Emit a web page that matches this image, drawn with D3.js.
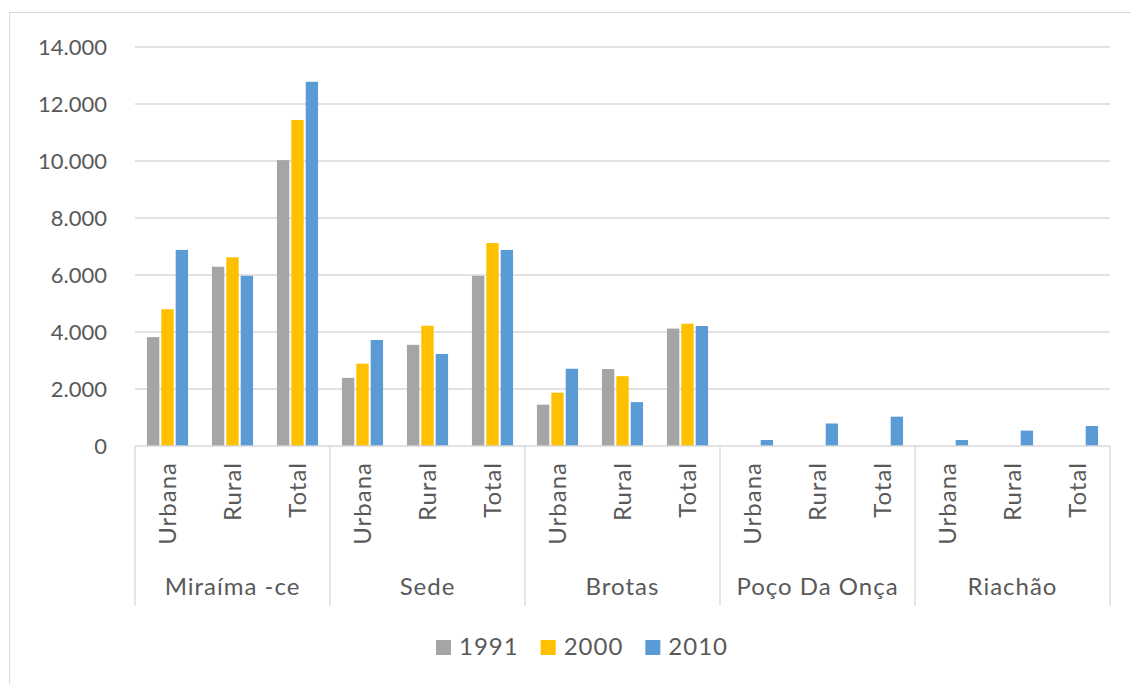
<!DOCTYPE html>
<html>
<head>
<meta charset="utf-8">
<script src="https://cdn.jsdelivr.net/npm/d3@7"></script>
<style>
  body { margin: 0; background: #fff; }
  text { font-family: Lato, "Open Sans", sans-serif; fill: #595959; }
</style>
</head>
<body>
<div id="chart"></div>
<script>
// data
const groups = ['Miraíma -ce', 'Sede', 'Brotas', 'Poço Da Onça', 'Riachão'];
const subcats = ['Urbana', 'Rural', 'Total'];
const years = ['1991', '2000', '2010'];
const v1991 = [3820, 6290, 10030, 2390, 3550, 5970, 1450, 2700, 4120, 0, 0, 0, 0, 0, 0];
const v2000 = [4800, 6620, 11440, 2890, 4220, 7120, 1870, 2450, 4290, 0, 0, 0, 0, 0, 0];
const v2010 = [6880, 5970, 12780, 3720, 3230, 6880, 2710, 1540, 4210, 210, 790, 1030, 210, 540, 700];
const yTicks = [0, 2000, 4000, 6000, 8000, 10000, 12000, 14000];
const colors = ['#a5a5a5', '#ffc000', '#5b9bd5'];

const W = 1131, H = 684;
const margin = {left: 135, right: 21, top: 47, bottom: 238};
const width = W - margin.left - margin.right;
const height = H - margin.top - margin.bottom;

const series = [v1991, v2000, v2010];
const rows = [];
groups.forEach((g, gi) => {
  subcats.forEach((s, si) => {
    const idx = gi * subcats.length + si;
    years.forEach((yr, yi) => {
      rows.push({group: g, sub: s, year: yr, value: series[yi][idx]});
    });
  });
});

const ptBR = d3.formatLocale({decimal: ',', thousands: '.', grouping: [3], currency: ['R$', '']});
const fmt = ptBR.format(',');

const svg = d3.select('#chart').append('svg')
    .attr('width', W)
    .attr('height', H);

// chart border
svg.append('rect')
    .attr('x', 9.5).attr('y', 12.5)
    .attr('width', 1300).attr('height', 900)
    .attr('fill', 'none')
    .attr('stroke', '#d9d9d9');

const g = svg.append('g')
    .attr('transform', 'translate(' + margin.left + ',' + margin.top + ')');

const x0 = d3.scaleBand().domain(groups).range([0, width]);
const x1 = d3.scaleBand().domain(subcats).range([0, x0.bandwidth()]);
const x2 = d3.scaleBand().domain(years).range([0, x1.bandwidth()])
    .paddingInner(0.14).paddingOuter(0.83);
const y = d3.scaleLinear().domain([0, 14000]).range([height, 0]);

// gridlines
g.selectAll('.grid')
    .data(yTicks.slice(1))
  .enter().append('line')
    .attr('x1', 0).attr('x2', width)
    .attr('y1', d => y(d)).attr('y2', d => y(d))
    .attr('stroke', '#d9d9d9')
    .attr('stroke-width', 1.3);

// y axis labels
const yAxis = g.append('g')
    .call(d3.axisLeft(y).tickValues(yTicks).tickFormat(fmt).tickSize(0).tickPadding(28));
yAxis.select('.domain').remove();
yAxis.selectAll('text')
    .attr('font-size', '22px')
    .attr('font-family', 'Lato, sans-serif')
    .attr('fill', '#595959');

// bars
g.selectAll('.bar')
    .data(rows)
  .enter().append('rect')
    .attr('class', 'bar')
    .attr('x', d => x0(d.group) + x1(d.sub) + x2(d.year))
    .attr('width', x2.bandwidth())
    .attr('y', d => y(d.value))
    .attr('height', d => height - y(d.value))
    .attr('fill', (d, i) => colors[years.indexOf(d.year)]);

// category axis line
g.append('line')
    .attr('x1', 0).attr('x2', width)
    .attr('y1', height).attr('y2', height)
    .attr('stroke', '#d9d9d9')
    .attr('stroke-width', 1.3);

// group separators
const seps = groups.map(d => x0(d)).concat([width]);
g.selectAll('.sep')
    .data(seps)
  .enter().append('line')
    .attr('x1', d => d).attr('x2', d => d)
    .attr('y1', height).attr('y2', height + 160)
    .attr('stroke', '#d9d9d9')
    .attr('stroke-width', 1.3);

// sub category labels (rotated)
const subLabels = [];
groups.forEach(gr => subcats.forEach(s => subLabels.push({group: gr, sub: s})));
g.selectAll('.sublab')
    .data(subLabels)
  .enter().append('text')
    .attr('transform', d => 'translate(' + (x0(d.group) + x1(d.sub) + x1.bandwidth() / 2 + 8) + ',' + (height + 16) + ') rotate(-90)')
    .attr('text-anchor', 'end')
    .attr('font-size', '24px')
    .attr('letter-spacing', '1px')
    .text(d => d.sub);

// group labels
g.selectAll('.grplab')
    .data(groups)
  .enter().append('text')
    .attr('x', d => x0(d) + x0.bandwidth() / 2)
    .attr('y', height + 149)
    .attr('text-anchor', 'middle')
    .attr('font-size', '24px')
    .attr('letter-spacing', '1px')
    .text(d => d);

// legend
const legend = svg.append('g').attr('transform', 'translate(0,647)');
const items = legend.selectAll('.item')
    .data(years)
  .enter().append('g');
items.append('rect')
    .attr('width', 15).attr('height', 15)
    .attr('y', -7)
    .attr('fill', (d, i) => colors[i]);
items.append('text')
    .attr('x', 23)
    .attr('y', 8)
    .attr('font-size', '24px')
    .attr('letter-spacing', '1px')
    .text(d => d);
// lay out legend items side by side, centred
let pos = 0;
const widths = [];
items.each(function() { widths.push(this.getBBox().width); });
const gap = 22;
const total = d3.sum(widths) + gap * (widths.length - 1);
pos = 582 - total / 2;
items.attr('transform', (d, i) => {
  const t = 'translate(' + pos + ',0)';
  pos += widths[i] + gap;
  return t;
});
</script>
</body>
</html>
